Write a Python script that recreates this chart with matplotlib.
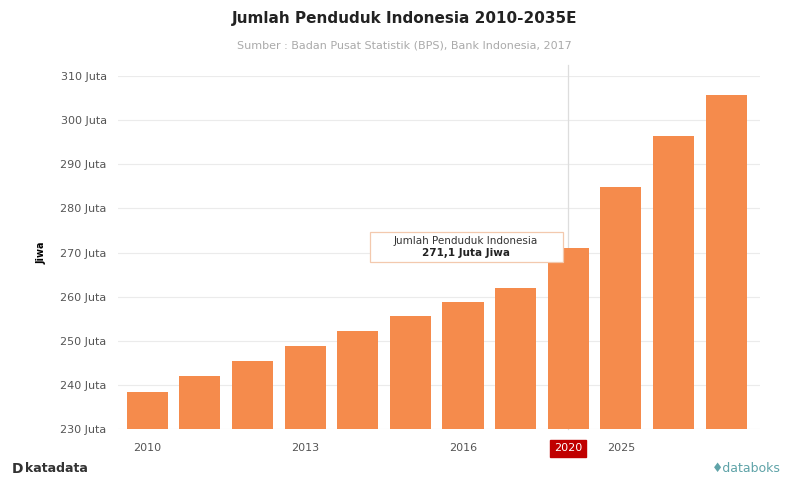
import numpy as np
import matplotlib.pyplot as plt
from matplotlib.patches import Rectangle

years = ['2010', '2011', '2012', '2013', '2014', '2015', '2016', '2017',
         '2020', '2025', '2030', '2035']
populasi = [238.5, 242.0, 245.4, 248.8, 252.2, 255.5, 258.7, 261.9,
            271.1, 284.8, 296.4, 305.7]
shown_labels = ['2010', '2013', '2016', '2025']
highlight = '2020'
yticks = [230, 240, 250, 260, 270, 280, 290, 300, 310]

x = np.arange(len(years))
fig = plt.figure(figsize=(7.85, 4.84), dpi=100)
ax = fig.add_axes([0.150, 0.1136, 0.818, 0.7294])

ax.bar(x, populasi, width=0.78, color='#F58B4C', zorder=2)
ax.set_ylim(230, 310)
ax.set_xlim(-0.56, 11.64)

ax.set_yticks(yticks)
ax.set_yticklabels([f'{v} Juta' for v in yticks], fontsize=8, color='#555555')
ax.grid(axis='y', color='#EBEBEB', linewidth=0.8, zorder=0)
ax.set_axisbelow(True)

tick_pos = [years.index(y) for y in shown_labels]
ax.set_xticks(tick_pos)
ax.set_xticklabels(shown_labels, fontsize=8, color='#555555')
ax.tick_params(axis='both', length=0, pad=8)
ax.tick_params(axis='x', pad=10)
for s in ax.spines.values():
    s.set_visible(False)

ax.set_ylabel('Jiwa', fontsize=7, fontweight='bold', labelpad=10)

# highlighted year
hi = years.index(highlight)
ax.axvline(hi, color='#DDDDDD', linewidth=0.9, zorder=1, ymax=1.03, clip_on=False)
ax.text(hi, 225.6, highlight, ha='center', va='center', fontsize=8, color='white',
        bbox=dict(boxstyle='square,pad=0.35', fc='#C00000', ec='#C00000'))

# tooltip
ax.add_patch(Rectangle((hi - 3.77, 267.9), 3.67, 6.8, fc='white', ec='#F3C9AE',
                       lw=0.9, zorder=5))
ax.text(hi - 1.94, 272.5, 'Jumlah Penduduk Indonesia', ha='center', va='center',
        fontsize=7.5, color='#333333', zorder=6)
ax.text(hi - 1.94, 269.9, f'{populasi[hi]:.1f}'.replace('.', ',') + ' Juta Jiwa',
        ha='center', va='center', fontsize=7.5, fontweight='bold', color='#222222', zorder=6)

fig.text(0.515, 0.962, 'Jumlah Penduduk Indonesia 2010-2035E', ha='center', va='center',
         fontsize=11, fontweight='semibold', color='#222222')
fig.text(0.515, 0.905, 'Sumber : Badan Pusat Statistik (BPS), Bank Indonesia, 2017',
         ha='center', va='center', fontsize=8, color='#AAAAAA')
fig.text(0.015, 0.032, 'D', ha='left', va='center', fontsize=10, fontweight='bold', color='#333333')
fig.text(0.032, 0.032, 'katadata', ha='left', va='center', fontsize=9, fontweight='bold',
         color='#333333')
fig.text(0.995, 0.032, '♦databoks', ha='right', va='center', fontsize=9, color='#5FA3A8')

fig.savefig('out.png', dpi=100)
